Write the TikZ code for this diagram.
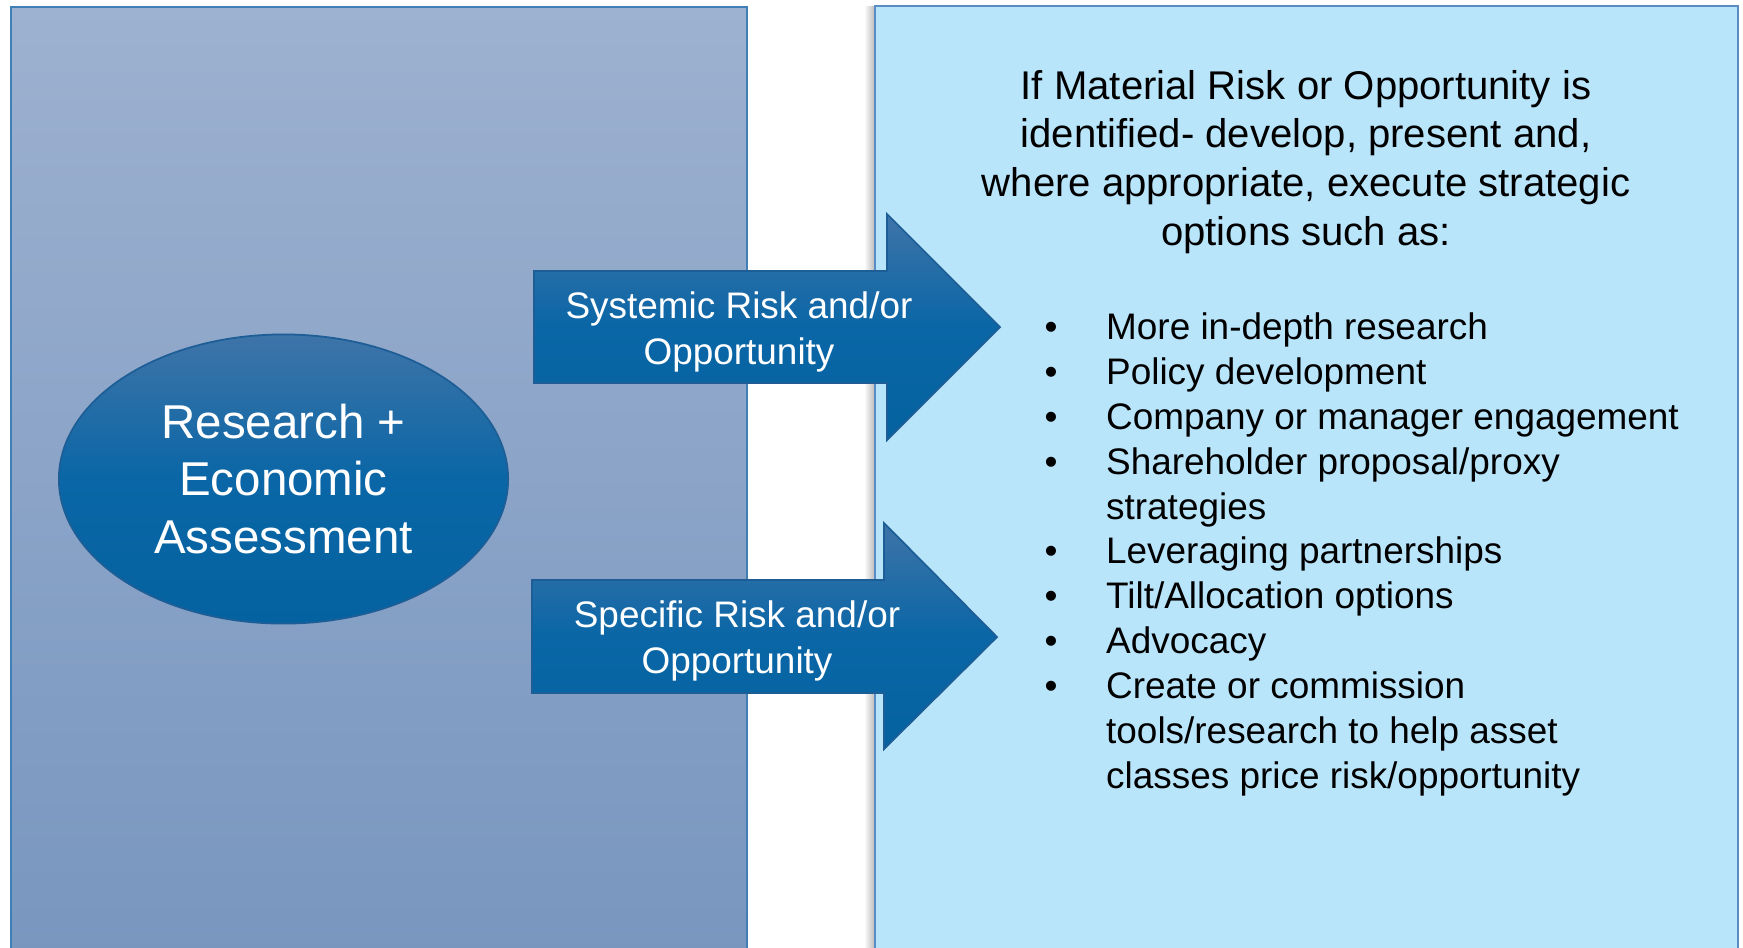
\documentclass[tikz,border=0pt]{standalone}
\usepackage{fontspec}
\setmainfont{Liberation Sans}
\usepackage{xcolor}
\usetikzlibrary{shapes.geometric}

\definecolor{panelTop}{HTML}{9DB1D0}
\definecolor{panelBot}{HTML}{7896BF}
\definecolor{panelEdge}{HTML}{3F7FB5}
\definecolor{actionFill}{HTML}{B9E5FB}
\definecolor{actionEdge}{HTML}{5A8CC6}
\definecolor{blueTop}{HTML}{3E74A8}
\definecolor{blueMid}{HTML}{0A66A6}
\definecolor{blueBot}{HTML}{0562A0}
\definecolor{blueEdge}{HTML}{1D5E96}

\begin{document}
\begin{tikzpicture}[x=0.01cm,y=-0.01cm,
    flow/.style={draw=blueEdge,line width=0.5pt,top color=blueTop,bottom color=blueBot,middle color=blueMid},
    flowtext/.style={text=white,align=center,font=\fontsize{10.5}{13}\selectfont}]
        \useasboundingbox (0,0) rectangle (1743,947);
        \clip (0,0) rectangle (1743,947);
        % two panels, the right one with a soft shadow on its left
        \draw[top color=panelTop,bottom color=panelBot,draw=panelEdge,line width=0.6pt] (11,7) rectangle (747,960);
        \shade[left color=white,right color=black!28] (864,6) rectangle (875,960);
        \draw[fill=actionFill,draw=actionEdge,line width=0.8pt] (875,6) rectangle (1738,960);
        % block arrows
        \draw[flow] (534,271) -- (887,271) -- (887,214) -- (1000,327) -- (887,440) -- (887,383) -- (534,383) -- cycle;
        \draw[flow] (532,580) -- (884,580) -- (884,523) -- (997,637) -- (884,749) -- (884,693) -- (532,693) -- cycle;
        \node[flowtext] (systemic) at (739,332) {Systemic Risk and/or\\Opportunity};
        \node[flowtext] (specific) at (737,641) {Specific Risk and/or\\Opportunity};
        \node[flow,ellipse,inner sep=0pt,minimum width=4.49cm,minimum height=2.89cm,text=white,align=center,
            font=\fontsize{13.5}{16.45}\selectfont] (assess) at (283.5,479) {Research +\\Economic\\Assessment};
        % right panel text
        \node[align=center,font=\fontsize{11.4}{13.9}\selectfont] (intro) at (1306,162) {If Material Risk or Opportunity is\\identified- develop, present and,\\where appropriate, execute strategic\\options such as:};
        \node[anchor=west,inner sep=0pt,font=\fontsize{10.5}{12.75}\selectfont] (options) at (1044,555) {%
            \begin{tabular}{@{}l@{\hspace{13.8pt}}l@{}}
                \textbullet & More in-depth research\\
                \textbullet & Policy development\\
                \textbullet & Company or manager engagement\\
                \textbullet & Shareholder proposal/proxy\\
                            & strategies\\
                \textbullet & Leveraging partnerships\\
                \textbullet & Tilt/Allocation options\\
                \textbullet & Advocacy\\
                \textbullet & Create or commission\\
                            & tools/research to help asset\\
                            & classes price risk/opportunity
            \end{tabular}};
    \end{tikzpicture}
\end{document}
